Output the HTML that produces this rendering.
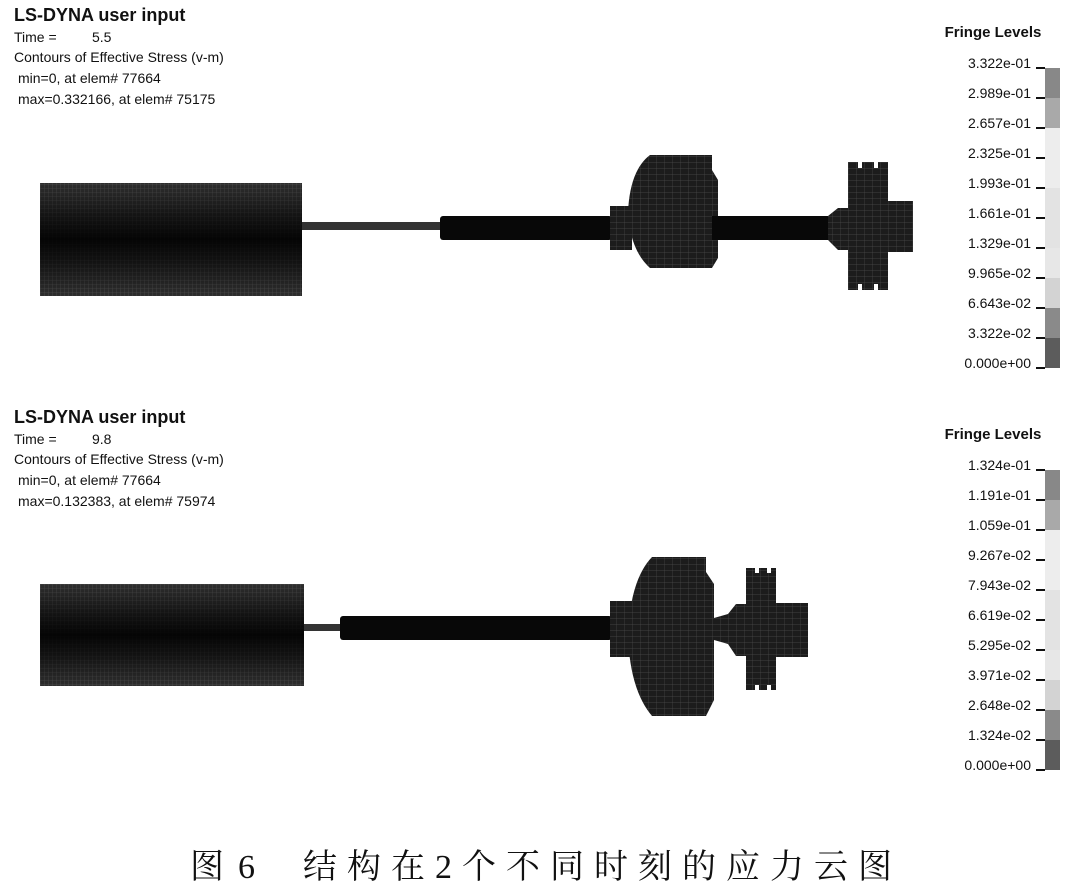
<!DOCTYPE html>
<html><head><meta charset="utf-8"><style>
html,body{margin:0;padding:0;background:#fff;}
svg{display:block;}
.t{font-family:"Liberation Sans",Arial,sans-serif;fill:#111;}
.lg{font-family:"Liberation Sans",Arial,sans-serif;font-size:14px;fill:#111;text-anchor:end;}
</style></head><body>
<svg width="1080" height="895" viewBox="0 0 1080 895" xmlns="http://www.w3.org/2000/svg">
<defs>
<pattern id="mesh" width="4" height="4" patternUnits="userSpaceOnUse">
<rect width="4" height="4" fill="#2e2e2e"/><path d="M0 0H4M0 0V4" stroke="#5a5a5a" stroke-width="0.6"/>
</pattern>
<pattern id="mesh2" width="8" height="6" patternUnits="userSpaceOnUse">
<rect width="8" height="6" fill="#1c1c1c"/><path d="M0 0H8M0 0V6" stroke="#4a4a4a" stroke-width="0.7"/>
</pattern>
<linearGradient id="blk" x1="0" y1="0" x2="0" y2="1">
<stop offset="0" stop-color="#000" stop-opacity="0"/><stop offset="0.3" stop-color="#000" stop-opacity="0.6"/><stop offset="0.5" stop-color="#000" stop-opacity="0.9"/><stop offset="0.7" stop-color="#000" stop-opacity="0.6"/><stop offset="1" stop-color="#000" stop-opacity="0"/>
</linearGradient>
</defs>

<g class="t">
<text x="14" y="21" font-size="18" font-weight="bold">LS-DYNA user input</text>
<text x="14" y="42" font-size="14">Time =</text><text x="92" y="42" font-size="14">5.5</text>
<text x="14" y="62" font-size="14">Contours of Effective Stress (v-m)</text>
<text x="18" y="83" font-size="14">min=0, at elem# 77664</text>
<text x="18" y="104" font-size="14">max=0.332166, at elem# 75175</text>
</g>
<g class="t">
<text x="14" y="423" font-size="18" font-weight="bold">LS-DYNA user input</text>
<text x="14" y="444" font-size="14">Time =</text><text x="92" y="444" font-size="14">9.8</text>
<text x="14" y="464" font-size="14">Contours of Effective Stress (v-m)</text>
<text x="18" y="485" font-size="14">min=0, at elem# 77664</text>
<text x="18" y="506" font-size="14">max=0.132383, at elem# 75974</text>
</g>

<g>
<rect x="40" y="183" width="262" height="113" fill="url(#mesh)"/>
<rect x="40" y="183" width="262" height="113" fill="url(#blk)"/>
<rect x="302" y="222" width="138" height="8" fill="#333"/>
<rect x="440" y="216" width="172" height="24" rx="3" fill="#080808"/>
<rect x="610" y="206" width="22" height="44" fill="url(#mesh2)"/>
<path d="M650 155 H712 V170 L718 180 V258 L712 268 H650 Q630 250 628 212 Q630 170 650 155Z" fill="url(#mesh2)"/>
<rect x="712" y="216" width="118" height="24" fill="#080808"/>
<path d="M828 216 L838 208 H848 V250 H838 L828 240Z" fill="url(#mesh2)"/>
<path d="M848 162 H858 V168 H862 V162 H874 V168 H878 V162 H888 V290 H878 V284 H874 V290 H862 V284 H858 V290 H848Z" fill="url(#mesh2)"/>
<rect x="888" y="201" width="25" height="51" fill="url(#mesh2)"/>
</g>

<g>
<rect x="40" y="584" width="264" height="102" fill="url(#mesh)"/>
<rect x="40" y="584" width="264" height="102" fill="url(#blk)"/>
<rect x="304" y="624" width="38" height="7" fill="#333"/>
<rect x="340" y="616" width="272" height="24" rx="3" fill="#080808"/>
<rect x="610" y="601" width="22" height="56" fill="url(#mesh2)"/>
<path d="M652 557 H706 V572 L714 584 V700 L706 716 H652 Q630 690 628 636 Q630 580 652 557Z" fill="url(#mesh2)"/>
<path d="M714 618 L728 614 L736 604 H746 V656 H736 L728 644 L714 640Z" fill="url(#mesh2)"/>
<path d="M746 568 H755 V573 H759 V568 H767 V573 H771 V568 H776 V690 H771 V685 H767 V690 H759 V685 H755 V690 H746Z" fill="url(#mesh2)"/>
<rect x="776" y="603" width="32" height="54" fill="url(#mesh2)"/>
</g>

<text x="993" y="37" class="t" font-size="15" font-weight="bold" text-anchor="middle">Fringe Levels</text>
<g>
<rect x="1045" y="68" width="15" height="30" fill="#888"/>
<rect x="1045" y="98" width="15" height="30" fill="#a9a9a9"/>
<rect x="1045" y="128" width="15" height="60" fill="#ededed"/>
<rect x="1045" y="188" width="15" height="60" fill="#e3e3e3"/>
<rect x="1045" y="248" width="15" height="30" fill="#e7e7e7"/>
<rect x="1045" y="278" width="15" height="30" fill="#d3d3d3"/>
<rect x="1045" y="308" width="15" height="30" fill="#8a8a8a"/>
<rect x="1045" y="338" width="15" height="30" fill="#5c5c5c"/>
</g>
<g class="lg">
<text x="1031" y="68">3.322e-01</text><text x="1031" y="98">2.989e-01</text><text x="1031" y="128">2.657e-01</text><text x="1031" y="158">2.325e-01</text><text x="1031" y="188">1.993e-01</text><text x="1031" y="218">1.661e-01</text><text x="1031" y="248">1.329e-01</text><text x="1031" y="278">9.965e-02</text><text x="1031" y="308">6.643e-02</text><text x="1031" y="338">3.322e-02</text><text x="1031" y="368">0.000e+00</text>
</g>
<g stroke="#111" stroke-width="2">
<path d="M1036 68H1045M1036 98H1045M1036 128H1045M1036 158H1045M1036 188H1045M1036 218H1045M1036 248H1045M1036 278H1045M1036 308H1045M1036 338H1045M1036 368H1045"/>
</g>

<text x="993" y="439" class="t" font-size="15" font-weight="bold" text-anchor="middle">Fringe Levels</text>
<g>
<rect x="1045" y="470" width="15" height="30" fill="#888"/>
<rect x="1045" y="500" width="15" height="30" fill="#a9a9a9"/>
<rect x="1045" y="530" width="15" height="60" fill="#ededed"/>
<rect x="1045" y="590" width="15" height="60" fill="#e3e3e3"/>
<rect x="1045" y="650" width="15" height="30" fill="#e7e7e7"/>
<rect x="1045" y="680" width="15" height="30" fill="#d3d3d3"/>
<rect x="1045" y="710" width="15" height="30" fill="#8a8a8a"/>
<rect x="1045" y="740" width="15" height="30" fill="#5c5c5c"/>
</g>
<g class="lg">
<text x="1031" y="470">1.324e-01</text><text x="1031" y="500">1.191e-01</text><text x="1031" y="530">1.059e-01</text><text x="1031" y="560">9.267e-02</text><text x="1031" y="590">7.943e-02</text><text x="1031" y="620">6.619e-02</text><text x="1031" y="650">5.295e-02</text><text x="1031" y="680">3.971e-02</text><text x="1031" y="710">2.648e-02</text><text x="1031" y="740">1.324e-02</text><text x="1031" y="770">0.000e+00</text>
</g>
<g stroke="#111" stroke-width="2">
<path d="M1036 470H1045M1036 500H1045M1036 530H1045M1036 560H1045M1036 590H1045M1036 620H1045M1036 650H1045M1036 680H1045M1036 710H1045M1036 740H1045M1036 770H1045"/>
</g>

<g font-family="'Noto Serif CJK SC','Liberation Serif',serif" font-size="34" fill="#111">
<text x="190" y="878">图</text>
<text x="238" y="878" font-family="'Liberation Serif',serif">6</text>
<text x="303" y="878" letter-spacing="10">结构在<tspan font-family="'Liberation Serif',serif">2</tspan>个不同时刻的应力云图</text>
</g>
</svg>
</body></html>
